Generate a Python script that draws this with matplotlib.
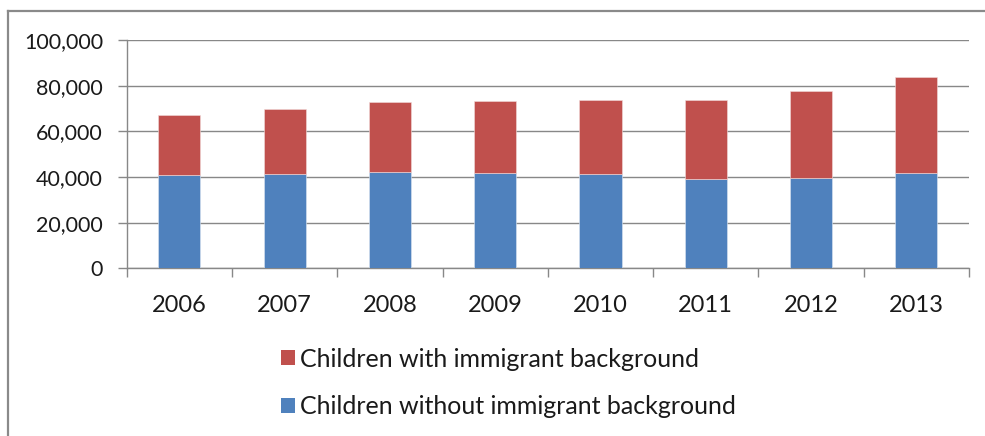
import matplotlib
matplotlib.use("Agg")
import matplotlib.pyplot as plt
from matplotlib.lines import Line2D
from matplotlib.patches import Patch
from matplotlib.ticker import FuncFormatter, FixedLocator

years = ["2006", "2007", "2008", "2009", "2010", "2011", "2012", "2013"]
without_bg = [40700, 41300, 42300, 41700, 41300, 39000, 39700, 41700]
totals = [67000, 69900, 72700, 73300, 73900, 73900, 77800, 83900]
with_bg = [t - w for t, w in zip(totals, without_bg)]

blue = "#4F81BD"
red = "#C0504D"
grid_c = "#888888"
text_c = "#1a1a1a"

plt.rcParams['font.family'] = ['Lato', 'DejaVu Sans']

fig = plt.figure(figsize=(9.85, 4.36), dpi=100)
ax = fig.add_axes([126.7/985, 1-268.3/436, (969-126.7)/985, (268.3-40)/436])

x = list(range(len(years)))
ax.bar(x, without_bg, width=0.4, color=blue, edgecolor="#dce6f2", linewidth=0.4, zorder=3)
ax.bar(x, with_bg, bottom=without_bg, width=0.4, color=red, edgecolor="#f2dcdb", linewidth=0.4, zorder=3)

ax.set_xlim(-0.5, len(years)-0.5)
ax.set_ylim(0, 100000)
ax.set_yticks(range(0, 100001, 20000))
ax.yaxis.set_major_formatter(FuncFormatter(lambda v, p: f"{int(v):,}"))
ax.yaxis.grid(True, color=grid_c, linewidth=1.0, zorder=0)
ax.set_axisbelow(True)

ax.set_xticks(x)
ax.set_xticklabels(years)
ax.xaxis.set_minor_locator(FixedLocator([i - 0.5 for i in range(len(years)+1)]))
ax.tick_params(axis='x', which='major', length=0, pad=19, labelsize=17, labelcolor=text_c)
ax.tick_params(axis='x', which='minor', length=6.5, width=1.0, color=grid_c, direction='out')
ax.tick_params(axis='y', which='major', length=6.5, width=1.0, color=grid_c, pad=10.5, labelsize=15.5, labelcolor=text_c)

for s in ['top', 'right']:
    ax.spines[s].set_visible(False)
for s in ['left', 'bottom']:
    ax.spines[s].set_color(grid_c)
    ax.spines[s].set_linewidth(1.0)

handles = [Patch(facecolor=red, edgecolor='none', label="Children with immigrant background"),
           Patch(facecolor=blue, edgecolor='none', label="Children without immigrant background")]
fig.legend(handles=handles, loc='center', bbox_to_anchor=(0.516, 1-383/436), frameon=False,
           fontsize=18, labelspacing=0.98, handlelength=0.55, handleheight=0.55, handletextpad=0.2,
           labelcolor=text_c)

# outer frame (top and left)
fig.add_artist(Line2D([8/985, 1.0], [1-11/436, 1-11/436], transform=fig.transFigure, color="#8a8a8a", linewidth=1.6))
fig.add_artist(Line2D([8/985, 8/985], [0, 1-11/436], transform=fig.transFigure, color="#8a8a8a", linewidth=1.6))

fig.savefig("out.png", dpi=100)
